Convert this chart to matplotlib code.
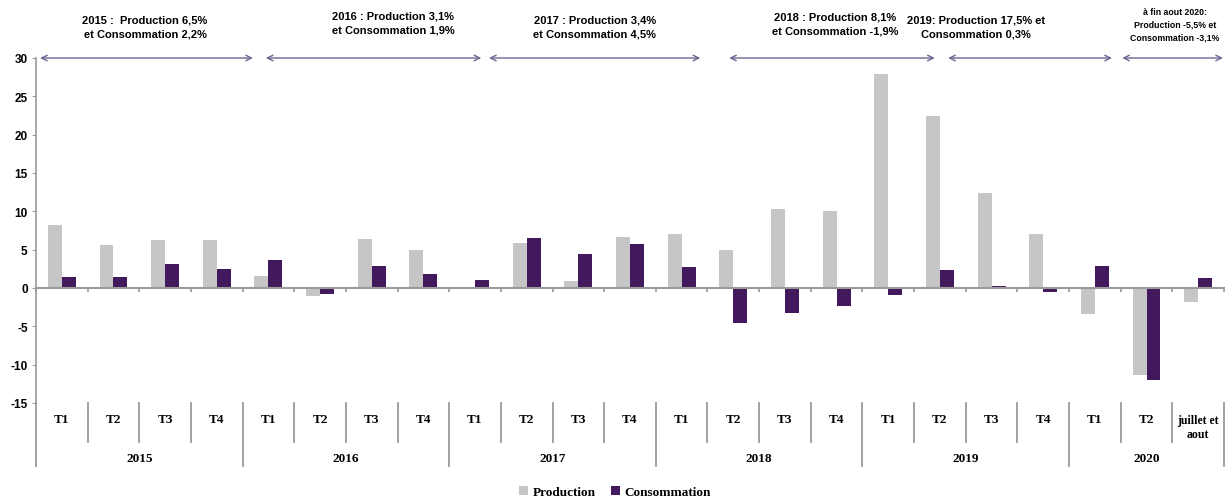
import numpy as np
import matplotlib.pyplot as plt
import matplotlib.transforms as mtransforms

plt.rcParams["axes.unicode_minus"] = False

# Données (variations en %)
trimestres = ["T1", "T2", "T3", "T4",
              "T1", "T2", "T3", "T4",
              "T1", "T2", "T3", "T4",
              "T1", "T2", "T3", "T4",
              "T1", "T2", "T3", "T4",
              "T1", "T2", "juillet et\naout"]
annees = ["2015", "2016", "2017", "2018", "2019", "2020"]
nb_par_annee = [4, 4, 4, 4, 4, 3]

production = [8.25, 5.6, 6.3, 6.3,
              1.55, -1.0, 6.4, 4.95,
              0.0, 5.9, 0.95, 6.6,
              7.1, 4.95, 10.3, 10.1,
              27.9, 22.5, 12.45, 7.1,
              -3.4, -11.4, -1.85]
consommation = [1.45, 1.45, 3.1, 2.5,
                3.65, -0.8, 2.85, 1.85,
                1.1, 6.5, 4.4, 5.8,
                2.7, -4.55, -3.3, -2.3,
                -0.85, 2.4, 0.3, -0.5,
                2.9, -11.95, 1.25]

commentaires = ["2015 :  Production 6,5%\net Consommation 2,2%",
                "2016 : Production 3,1%\net Consommation 1,9%",
                "2017 : Production 3,4%\net Consommation 4,5%",
                "2018 : Production 8,1%\net Consommation -1,9%",
                "2019: Production 17,5% et\nConsommation 0,3%",
                "à fin aout 2020:\nProduction -5,5% et\nConsommation -3,1%"]
fleches = [(-0.42, 3.7), (3.95, 8.12), (8.27, 12.36),
           (12.92, 16.9), (17.16, 20.33), (20.53, 22.48)]
pos_commentaires = [1.61, 6.41, 10.32, 14.97, 17.7, 21.55]
y_commentaires = [0.945, 0.953, 0.945, 0.952, 0.945, 0.95]

gris = "#C6C6C6"
violet = "#41195C"
gris_axe = "#9A9A9A"
police_sans = ["Liberation Sans", "DejaVu Sans"]
police_serif = ["Liberation Serif", "DejaVu Serif"]

fig = plt.figure(figsize=(12.29, 5.02), dpi=100)
ax = fig.add_axes([36 / 1229, 1 - 404 / 502, (1224 - 36) / 1229, (404 - 59) / 502])

x = np.arange(len(trimestres))
largeur = 0.27
ax.bar(x - 0.135, production, largeur, color=gris, label="Production")
ax.bar(x + 0.135, consommation, largeur, color=violet, label="Consommation")

ax.set_xlim(-0.5, len(trimestres) - 0.5)
ax.set_ylim(-15, 30)
ax.set_yticks(np.arange(-15, 31, 5))
for lab in ax.get_yticklabels():
    lab.set_fontfamily(police_sans)
    lab.set_fontweight("bold")
    lab.set_fontsize(8.5)
ax.tick_params(axis="y", length=3, color=gris_axe, pad=3)

for s in ["top", "right"]:
    ax.spines[s].set_visible(False)
ax.spines["bottom"].set_position(("data", 0))
ax.spines["bottom"].set_color(gris_axe)
ax.spines["bottom"].set_linewidth(1.5)
ax.spines["left"].set_color(gris_axe)
ax.spines["left"].set_linewidth(1.2)
ax.set_xticks(np.arange(-0.5, len(trimestres), 1))
ax.set_xticklabels([])
ax.tick_params(axis="x", direction="out", length=3, color=gris_axe, width=1.2)

# Tableau des catégories sous le graphique
y_bas_trim = -15 - 39 / 7.67
y_bas_annee = -15 - 63 / 7.67
limites_annees = np.concatenate([[0], np.cumsum(nb_par_annee)])
for k in range(len(trimestres) + 1):
    bas = y_bas_annee if k in limites_annees else y_bas_trim
    ax.plot([k - 0.5, k - 0.5], [-15, bas], color=gris_axe, lw=1.3, clip_on=False)
for i, t in enumerate(trimestres):
    yy = -15 - 16 / 7.67 if "\n" not in t else -15 - 24 / 7.67
    ax.text(i, yy, t, ha="center", va="center", fontsize=9.5 if "\n" not in t else 8.5,
            fontweight="bold", family=police_serif, linespacing=1.3, clip_on=False)
for j, an in enumerate(annees):
    centre = (limites_annees[j] + limites_annees[j + 1] - 1) / 2
    ax.text(centre, -15 - 55 / 7.67, an, ha="center", va="center", fontsize=9.5,
            fontweight="bold", family=police_serif, clip_on=False)

# Flèches et commentaires annuels
trans = mtransforms.blended_transform_factory(ax.transData, fig.transFigure)
for (x0, x1) in fleches:
    ax.annotate("", xy=(x1, 30), xytext=(x0, 30),
                arrowprops=dict(arrowstyle="<->", color="#6F6492", lw=1.0,
                                shrinkA=0, shrinkB=0), annotation_clip=False)
for texte, px, py in zip(commentaires, pos_commentaires, y_commentaires):
    petit = texte.count("\n") == 2
    ax.text(px, py, texte, transform=trans, ha="center", va="center",
            fontsize=6.3 if petit else 8, fontweight="bold", family=police_sans,
            linespacing=1.55 if petit else 1.5)

fig.legend(loc="center", bbox_to_anchor=(615 / 1229, 1 - 493 / 502), ncol=2,
           frameon=False, handlelength=0.7, handleheight=0.7, handletextpad=0.3,
           columnspacing=1.2, prop={"family": police_serif, "weight": "bold", "size": 9.5})

fig.savefig("out.png", dpi=100)
